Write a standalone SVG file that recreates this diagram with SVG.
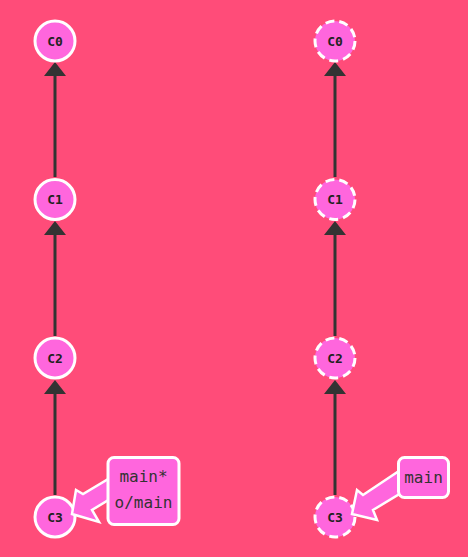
<svg xmlns="http://www.w3.org/2000/svg" width="468" height="557" viewBox="0 0 468 557">
<style>
.node{fill:#ff66dd;stroke:#fff;stroke-width:3}
.dash{stroke-dasharray:9 5}
.lbl{font-family:"DejaVu Sans Mono",monospace;font-weight:bold;font-size:13px;fill:#222;text-anchor:middle;dominant-baseline:central}
.conn{stroke:#333;stroke-width:3;fill:none}
.head{fill:#333}
.box{fill:#ff66dd;stroke:#fff;stroke-width:3}
.bt{font-family:"DejaVu Sans Mono",monospace;font-size:16px;fill:#333;text-anchor:middle;dominant-baseline:central}
.barr{fill:#ff66dd;stroke:#fff;stroke-width:2.5;stroke-linejoin:miter}
</style>
<rect width="468" height="557" fill="#ff4c79"/>
<g id="connectors">
<line class="conn" x1="55" y1="177" x2="55" y2="72"/>
<polygon class="head" points="55,62 44,76 66,76"/>
<line class="conn" x1="55" y1="336" x2="55" y2="231"/>
<polygon class="head" points="55,221 44,235 66,235"/>
<line class="conn" x1="55" y1="495" x2="55" y2="390"/>
<polygon class="head" points="55,380 44,394 66,394"/>
<line class="conn" x1="335" y1="177" x2="335" y2="72"/>
<polygon class="head" points="335,62 324,76 346,76"/>
<line class="conn" x1="335" y1="336" x2="335" y2="231"/>
<polygon class="head" points="335,221 324,235 346,235"/>
<line class="conn" x1="335" y1="495" x2="335" y2="390"/>
<polygon class="head" points="335,380 324,394 346,394"/>
</g>
<g id="C0"><circle class="node" cx="55" cy="41" r="20"/><text class="lbl" x="55" y="41">C0</text></g>
<g id="C1"><circle class="node" cx="55" cy="199.5" r="20"/><text class="lbl" x="55" y="199.5">C1</text></g>
<g id="C2"><circle class="node" cx="55" cy="358" r="20"/><text class="lbl" x="55" y="358">C2</text></g>
<g id="C3"><circle class="node" cx="55" cy="517" r="20"/><text class="lbl" x="55" y="517">C3</text></g>
<g id="oC0"><circle class="node dash" cx="335" cy="41" r="20"/><text class="lbl" x="335" y="41">C0</text></g>
<g id="oC1"><circle class="node dash" cx="335" cy="199.5" r="20"/><text class="lbl" x="335" y="199.5">C1</text></g>
<g id="oC2"><circle class="node dash" cx="335" cy="358" r="20"/><text class="lbl" x="335" y="358">C2</text></g>
<g id="oC3"><circle class="node dash" cx="335" cy="517" r="20"/><text class="lbl" x="335" y="517">C3</text></g>
<g id="branch-main-left">
<polygon class="barr" points="72,514 76,490 83,494 110,478 110,499 92,510 99,522"/>
<rect class="box" x="108" y="457.5" width="71" height="67" rx="6"/>
<text class="bt" x="143.5" y="476">main*</text>
<text class="bt" x="143.5" y="502">o/main</text>
</g>
<g id="branch-main-right">
<polygon class="barr" points="352,514 357,490 363,495 399,471 401,493 373,510 377,520"/>
<rect class="box" x="398.5" y="457.5" width="50" height="40" rx="6"/>
<text class="bt" x="423.5" y="477">main</text>
</g>
</svg>
